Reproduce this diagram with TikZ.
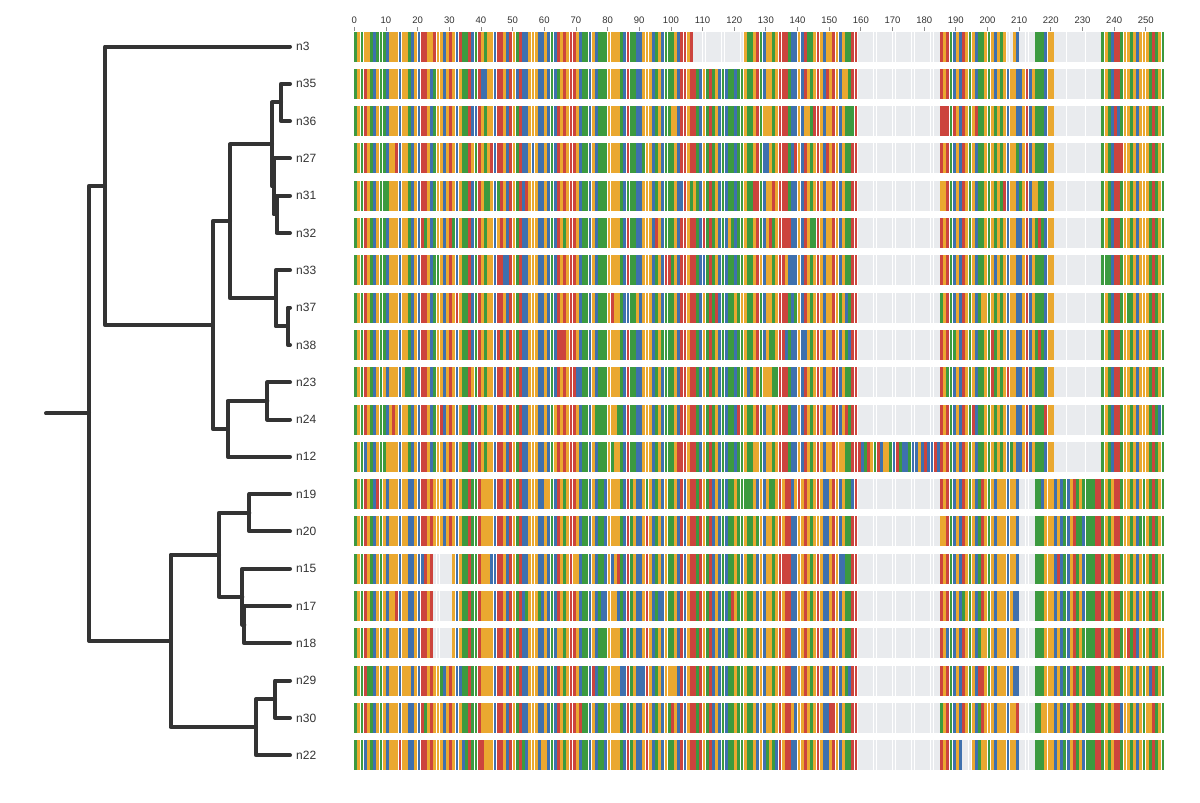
\documentclass[tikz,border=0pt]{standalone}
\usepackage{fontspec}
\setmainfont{Liberation Sans}
\definecolor{cG}{HTML}{3C9A3F}
\definecolor{cY}{HTML}{EAA830}
\definecolor{cR}{HTML}{CC443D}
\definecolor{cB}{HTML}{3E70AE}
\definecolor{cgap}{HTML}{E9EBEE}
\definecolor{treec}{HTML}{333333}
\newif\ifgap
\def\checkgap#1#2{%
  \gapfalse
  \ifnum#2>158 \ifnum#2<185 \ifnum#1=11 \else\gaptrue\fi\fi\fi
  \ifnum#1<12 \ifnum#2>220 \ifnum#2<236 \gaptrue\fi\fi\fi
  \ifnum#1>11 \ifnum#2>209 \ifnum#2<215 \gaptrue\fi\fi\fi
  \ifnum#1>13 \ifnum#1<17 \ifnum#2>24 \ifnum#2<31 \gaptrue\fi\fi\fi\fi
  \ifnum#1=19 \ifnum#2>191 \ifnum#2<195 \gaptrue\fi\fi\fi
  \ifnum#1=0
    \ifnum#2>106 \ifnum#2<123 \gaptrue\fi\fi
    \ifnum#2>205 \ifnum#2<208 \gaptrue\fi\fi
    \ifnum#2>209 \ifnum#2<215 \gaptrue\fi\fi
  \fi}
\def\baseseq{G,Y,G,R,Y,G,B,Y,G,Y,B,Y,Y,Y,B,Y,Y,B,B,Y,B,R,R,Y,R,Y,Y,Y,B,Y,R,Y,B,Y,G,G,R,G,G,R,Y,Y,Y,Y,B,R,R,Y,B,R,Y,G,R,B,B,Y,Y,Y,B,B,Y,B,G,B,%
R,Y,G,Y,R,R,Y,B,G,G,B,Y,B,G,G,B,Y,Y,Y,Y,G,B,R,G,Y,B,B,Y,R,Y,B,G,Y,B,Y,G,G,Y,B,R,B,Y,R,R,G,R,Y,G,R,B,Y,B,G,B,G,G,Y,G,G,Y,G,G,Y,B,%
Y,B,Y,Y,G,Y,R,Y,R,R,B,B,Y,Y,R,Y,G,Y,R,Y,B,B,Y,R,Y,B,Y,G,G,R,R,%
B,B,G,R,B,G,R,B,Y,B,G,B,R,G,Y,B,R,B,B,G,B,R,B,B,Y,B,%
R,Y,R,G,B,Y,B,%
R,Y,G,Y,B,G,R,Y,G,Y,B,Y,Y,Y,B,Y,Y,B,%
Y,G,R,B,Y,%
G,G,G,Y,Y,Y,B,Y,B,G,B,Y,R,G,Y,B,G,G,G,R,R,G,Y,G,Y,R,R,G,Y,Y,G,Y,B,Y,G,Y,G,R,G,Y,G}
\tikzset{
  tree/.style={draw=treec, line width=4pt, line cap=round, line join=round},
  lbl/.style={anchor=west, inner sep=0pt, text=treec, font=\fontsize{12}{14}\selectfont},
  axlbl/.style={anchor=south, inner sep=0pt, text=treec, font=\fontsize{9.5}{10}\selectfont},
  tickln/.style={draw=black!45, line width=0.8pt}
}
\begin{document}
\begin{tikzpicture}[x=1pt,y=-1pt]
\useasboundingbox (0,0) rectangle (1200,803);
\fill[white] (0,0) rectangle (1200,803);
% axis
\foreach \t in {0,10,...,250}{
  \pgfmathsetmacro\tx{354.3+3.166*\t}
  \draw[tickln] (\tx,27) -- (\tx,31);
  \node[axlbl] (ax\t) at (\tx,24) {\t};
}
% alignment
\pgfmathsetseed{7}
\foreach \b [count=\ci from 0] in \baseseq {
  \pgfmathsetmacro\xa{354.3+3.166*\ci}
  \pgfmathsetmacro\xb{\xa+2.85}
  \edef\up{\b}
  \pgfmathparse{rnd}
  \ifdim\pgfmathresult pt<0.15pt
    \pgfmathrandominteger{\rl}{0}{3}\edef\up{\ifcase\rl G\or Y\or R\or B\fi}
  \fi
  \foreach \ri in {0,...,19}{
    \pgfmathsetmacro\yc{46.5+37.3*\ri}
    \checkgap{\ri}{\ci}
    \ifgap
      \fill[cgap] (\xa,\yc-15) rectangle (\xb,\yc+15);
    \else
      \ifnum\ri<12 \edef\cl{\up}\else\edef\cl{\b}\fi
      \pgfmathparse{rnd}
      \ifdim\pgfmathresult pt<0.06pt
        \pgfmathrandominteger{\rl}{0}{3}\edef\cl{\ifcase\rl G\or Y\or R\or B\fi}
      \fi
      \fill[fill=c\cl] (\xa,\yc-15) rectangle (\xb,\yc+15);
    \fi
  }
}
% leaves and labels
\foreach \nm [count=\k from 0] in {n3,n35,n36,n27,n31,n32,n33,n37,n38,n23,n24,n12,n19,n20,n15,n17,n18,n29,n30,n22}{
  \pgfmathsetmacro\yy{46.5+37.3*\k}
  \coordinate (\nm) at (290,\yy);
  \node[lbl] (l\nm) at (296,\yy) {\nm};
}
% internal nodes
\coordinate (stub) at (46,413.4);
\coordinate (root) at (89,413.4);
\coordinate (U) at (105,185.8);
\coordinate (A) at (212.7,325.1);
\coordinate (B) at (230,221.35);
\coordinate (D) at (272,144.4);
\coordinate (P1) at (281,102.45);
\coordinate (X) at (273.5,186.4);
\coordinate (Q) at (276.5,214.35);
\coordinate (E) at (275.7,298.3);
\coordinate (R) at (287.7,326.25);
\coordinate (C) at (227.7,428.8);
\coordinate (F) at (267.3,400.85);
\coordinate (G) at (170.7,640.95);
\coordinate (H) at (219,554.7);
\coordinate (I) at (249.3,512.75);
\coordinate (J) at (242.3,596.7);
\coordinate (K) at (244.3,624.65);
\coordinate (L) at (256,727.2);
\coordinate (M) at (275,699.25);
% tree edges
\draw[tree] (stub) -- (root);
\foreach \p/\c in {root/U,root/G,U/n3,U/A,A/B,A/C,B/D,B/E,D/P1,D/X,P1/n35,P1/n36,X/n27,X/Q,Q/n31,Q/n32,E/n33,E/R,R/n37,R/n38,C/F,C/n12,F/n23,F/n24,G/H,G/L,H/I,H/J,I/n19,I/n20,J/n15,J/K,K/n17,K/n18,L/M,L/n22,M/n29,M/n30}{
  \draw[tree] (\p) |- (\c);
}
\end{tikzpicture}
\end{document}
